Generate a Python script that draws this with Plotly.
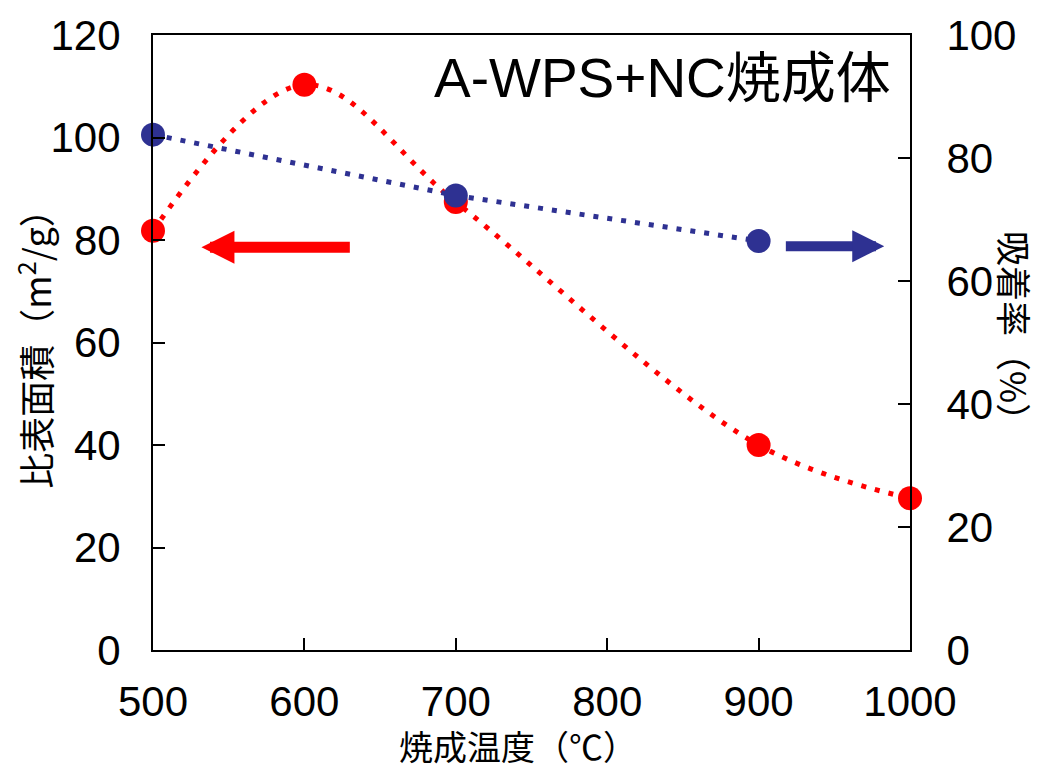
import plotly.graph_objects as go

temps_area = [500, 600, 700, 900, 1000]
surface_area = [81.8, 110.3, 87.4, 40.0, 29.6]

temps_ads = [500, 700, 900]
adsorption = [83.8, 73.9, 66.5]

x_ticks = [500, 600, 700, 800, 900, 1000]
y1_ticks = [0, 20, 40, 60, 80, 100, 120]
y2_ticks = [0, 20, 40, 60, 80, 100]

RED = "#FF0000"
BLUE = "#2E3192"
FONT = "Liberation Sans, Arial, Noto Sans CJK JP, sans-serif"
CJK = "Noto Sans CJK JP, Liberation Sans, sans-serif"

fig = go.Figure()
fig.add_trace(go.Scatter(
    x=temps_area, y=surface_area, mode="lines+markers",
    line=dict(color=RED, width=5, dash="5px,9px", shape="spline", smoothing=1.0),
    marker=dict(color=RED, size=24), cliponaxis=False, yaxis="y", showlegend=False,
))
fig.add_trace(go.Scatter(
    x=temps_ads, y=adsorption, mode="lines+markers",
    line=dict(color=BLUE, width=5, dash="5px,9px"),
    marker=dict(color=BLUE, size=24), cliponaxis=False, yaxis="y2", showlegend=False,
))

axis_common = dict(showline=True, linecolor="black", linewidth=2, ticks="inside",
                   ticklen=12, tickwidth=2, tickcolor="black", showgrid=False,
                   zeroline=False, tickfont=dict(family=FONT, size=42, color="black"))

fig.update_layout(
    width=1040, height=771,
    margin=dict(l=153, r=130, t=28, b=121),
    paper_bgcolor="white", plot_bgcolor="white",
    xaxis=dict(range=[500, 1000], tickvals=x_ticks, mirror=True,
               ticklabelstandoff=14, **axis_common),
    yaxis=dict(range=[0, 120], tickvals=y1_ticks, ticklabelstandoff=22, **axis_common),
    yaxis2=dict(range=[0, 100], tickvals=y2_ticks, overlaying="y", side="right",
                ticklabelstandoff=26, **axis_common),
)

annotations = [
    dict(text="A-WPS+NC焼成体", xref="paper", yref="paper", x=0.978, y=0.93,
         xanchor="right", yanchor="middle", showarrow=False,
         font=dict(family=FONT, size=55, color="black")),
    dict(text="比表面積（m<sup>2</sup>/g）", xref="paper", yref="paper", x=0, y=0.503,
         xanchor="center", yanchor="middle", xshift=-119, textangle=-90, showarrow=False,
         font=dict(family=CJK, size=36, color="black")),
    dict(text="吸着率（%）", xref="paper", yref="paper", x=1, y=0.514,
         xanchor="center", yanchor="middle", xshift=105, textangle=90, showarrow=False,
         font=dict(family=CJK, size=35, color="black")),
    dict(text="焼成温度（℃）", xref="paper", yref="paper", x=0.5, y=0,
         xanchor="center", yanchor="middle", xshift=-14, yshift=-95, showarrow=False,
         font=dict(family=CJK, size=34, color="black")),
    # left-pointing red arrow (surface area -> left axis)
    dict(x=532, y=78.6, ax=631, ay=78.6, xref="x", yref="y", axref="x", ayref="y",
         text="", showarrow=True, arrowhead=2, arrowwidth=11, arrowsize=0.6,
         arrowcolor=RED),
    # right-pointing blue arrow (adsorption -> right axis)
    dict(x=983, y=78.8, ax=917, ay=78.8, xref="x", yref="y", axref="x", ayref="y",
         text="", showarrow=True, arrowhead=2, arrowwidth=10, arrowsize=0.64,
         arrowcolor=BLUE),
]
fig.update_layout(annotations=annotations)

fig.write_html(
    "out.html",
    config={"displayModeBar": False},
    post_script="document.body.style.margin='0';document.body.style.overflow='hidden';",
)
